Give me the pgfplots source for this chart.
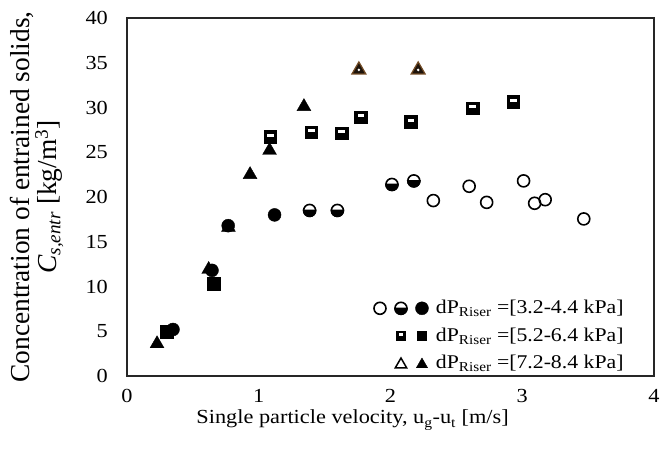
\documentclass[border=0pt]{standalone}
\usepackage{pgfplots}
\pgfplotsset{compat=1.18}
\usepackage{fontspec}
\setmainfont{Liberation Serif}
\newfontfamily\wide{Liberation Serif}[FakeStretch=1.12]

\pgfdeclareplotmark{hcirc}{%
  \pgfsetfillcolor{white}%
  \pgfpathcircle{\pgfpointorigin}{\pgfplotmarksize}%
  \pgfusepathqfillstroke
  \pgfsetfillcolor{black}%
  \pgfpathmoveto{\pgfqpoint{-\pgfplotmarksize}{0pt}}%
  \pgfpatharc{180}{360}{\pgfplotmarksize}%
  \pgfpathclose
  \pgfusepathqfillstroke
}
\pgfdeclareplotmark{hsq}{%
  \pgfsetfillcolor{black}%
  \pgfpathrectanglecorners{\pgfqpoint{-\pgfplotmarksize}{-\pgfplotmarksize}}{\pgfqpoint{\pgfplotmarksize}{\pgfplotmarksize}}%
  \pgfusepathqfillstroke
  \pgfsetfillcolor{white}%
  \pgfpathrectanglecorners{\pgfqpoint{-0.55\pgfplotmarksize}{0.05\pgfplotmarksize}}{\pgfqpoint{0.55\pgfplotmarksize}{0.55\pgfplotmarksize}}%
  \pgfusepathqfill
}
\pgfdeclareplotmark{btri}{%
  \pgfsetfillcolor{black!85!brown}%
  \pgfpathmoveto{\pgfqpoint{0pt}{\pgfplotmarksize}}%
  \pgfpathlineto{\pgfqpoint{-0.866\pgfplotmarksize}{-0.5\pgfplotmarksize}}%
  \pgfpathlineto{\pgfqpoint{0.866\pgfplotmarksize}{-0.5\pgfplotmarksize}}%
  \pgfpathclose
  \pgfusepathqfillstroke
  \pgfsetfillcolor{white}%
  \pgfpathcircle{\pgfqpoint{0pt}{0pt}}{0.18\pgfplotmarksize}%
  \pgfusepathqfill
}

\begin{document}
\fontsize{21}{24}\selectfont
\begin{tikzpicture}
\path[use as bounding box] (-127bp,-78bp) rectangle (535bp,376bp);
\begin{axis}[
  at={(0,0)}, anchor=south west,
  scale only axis, width=527bp, height=358bp,
  xmin=0, xmax=4, ymin=0, ymax=40,
  xtick={0,1,2,3,4}, ytick={0,5,...,40},
  major tick length=0pt,
  axis line style={line width=1.5bp, black!85},
  /pgf/number format/assume math mode=true,
  xticklabel style={yshift=-6bp, font=\wide\fontsize{20}{22}\selectfont},
  yticklabel style={xshift=-12bp, font=\wide\fontsize{20}{22}\selectfont},
  xlabel={Single particle velocity, u\textsubscript{g}-u\textsubscript{t} [m/s]},
  xlabel style={at={(axis description cs:0.428,-0.134)}, anchor=base, font=\wide\fontsize{20}{24}\selectfont},
  ylabel={Concentration of entrained solids,\\ \textit{C\textsubscript{s,entr}} [kg/m\textsuperscript{3}]},
  ylabel style={at={(axis description cs:-0.1708,0.5)}, anchor=center, align=center, font=\fontsize{27.5}{21}\selectfont},
  legend style={draw=none, fill=none, at={(axis description cs:0.952,0.0)}, anchor=south east,
    font=\wide\fontsize{19.5}{22}\selectfont, row sep=7bp},
  legend cell align=left,
]
% open circles
\addplot[only marks, mark=o, mark size=6bp, line width=1.6bp, forget plot] coordinates {
 (2.325,19.6) (2.597,21.2) (2.73,19.4) (3.01,21.8) (3.094,19.3) (3.174,19.7) (3.467,17.55)};
% half circles
\addplot[only marks, mark=hcirc, mark size=6bp, line width=1.6bp, forget plot] coordinates {
 (1.386,18.5) (1.597,18.5) (2.011,21.4) (2.177,21.8)};
% filled circles
\addplot[only marks, mark=*, mark size=6.5bp, fill=black, forget plot] coordinates {
 (0.645,11.8) (0.768,16.8) (1.12,18.0) (0.349,5.2)};
% half squares
\addplot[only marks, mark=hsq, mark size=6bp, line width=1.6bp, forget plot] coordinates {
 (1.09,26.7) (1.40,27.2) (1.63,27.1) (1.775,28.9) (2.157,28.4) (2.624,29.9) (2.933,30.6)};
% filled squares
\addplot[only marks, mark=square*, mark size=6.5bp, fill=black, forget plot] coordinates {
 (0.304,4.95) (0.658,10.3)};
% brown triangles
\addplot[only marks, mark=btri, mark size=8bp, line width=1.2bp, draw=brown!60!black, forget plot] coordinates {
 (1.76,34.2) (2.21,34.2)};
% filled triangles
\addplot[only marks, mark=triangle*, mark size=8bp, fill=black, forget plot] coordinates {
 (0.228,3.6) (0.62,11.9) (0.77,16.6) (0.934,22.5) (1.082,25.2) (1.343,30.1)};

\addlegendimage{legend image code/.code={
  \path[draw=none, fill=none] (-7bp,-7bp) rectangle (54bp,7bp);
  \draw[black, line width=1.6bp, only marks, mark=o, mark size=6bp] plot coordinates {(0bp,0bp)};
  \draw[black, line width=1.6bp, only marks, mark=hcirc, mark size=6bp] plot coordinates {(21bp,0bp)};
  \draw[black, fill=black, only marks, mark=*, mark size=6.5bp] plot coordinates {(42bp,0bp)};
}}
\addlegendentry{dP\textsubscript{Riser} =[3.2-4.4 kPa]}
\addlegendimage{legend image code/.code={
  \path[draw=none, fill=none] (-7bp,-7bp) rectangle (54bp,7bp);
  \draw[black, line width=1.3bp, only marks, mark=hsq, mark size=4.5bp] plot coordinates {(21bp,0bp)};
  \draw[black, fill=black, only marks, mark=square*, mark size=4.5bp] plot coordinates {(42bp,0bp)};
}}
\addlegendentry{dP\textsubscript{Riser} =[5.2-6.4 kPa]}
\addlegendimage{legend image code/.code={
  \path[draw=none, fill=none] (-7bp,-7bp) rectangle (54bp,7bp);
  \draw[black, line width=1.5bp, only marks, mark=triangle, mark size=6.5bp] plot coordinates {(21bp,-1bp)};
  \draw[black, fill=black, only marks, mark=triangle*, mark size=6.5bp] plot coordinates {(42bp,-1bp)};
}}
\addlegendentry{dP\textsubscript{Riser} =[7.2-8.4 kPa]}
\end{axis}
\end{tikzpicture}
\end{document}
